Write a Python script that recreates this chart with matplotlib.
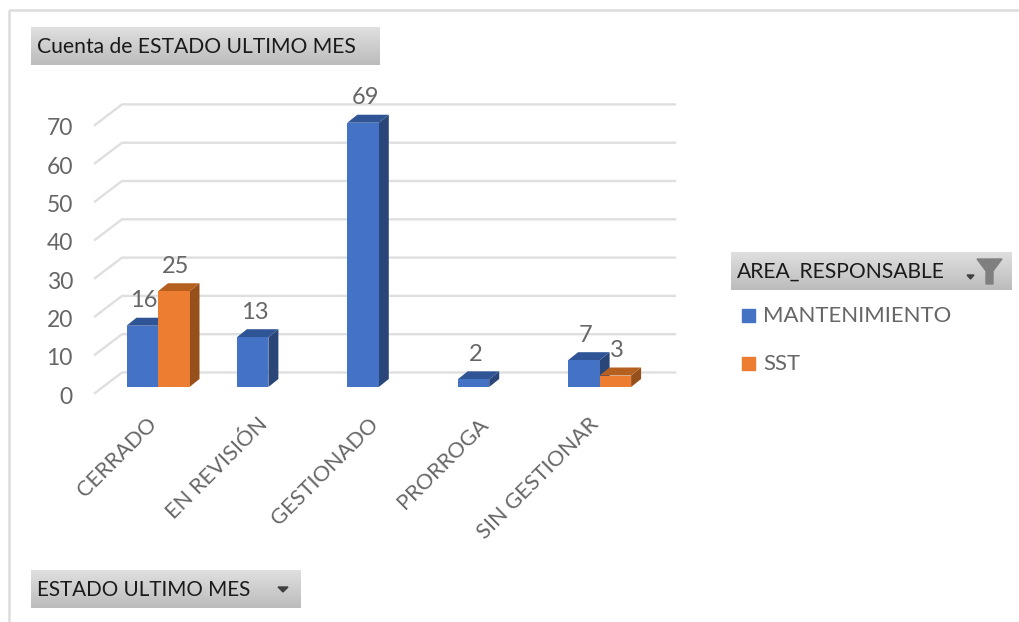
import matplotlib
matplotlib.use('Agg')
import matplotlib.pyplot as plt
import numpy as np
from matplotlib.patches import Polygon, Rectangle
from matplotlib.transforms import ScaledTranslation

WIDTH, HEIGHT = 1019, 622
DPI = 100

categories = ['CERRADO', 'EN REVISIÓN', 'GESTIONADO', 'PRORROGA', 'SIN GESTIONAR']
series_names = ['MANTENIMIENTO', 'SST']
mantenimiento = [16, 13, 69, 2, 7]
sst = [25, None, None, None, 3]
y_ticks = [0, 10, 20, 30, 40, 50, 60, 70]

BLUE = ('#4472C4', '#2F5597', '#2A4678')
ORANGE = ('#ED7D31', '#B5601F', '#96501C')
TEXT_GREY = '#666666'
GRID = '#DFDFDF'

plt.rcParams['font.family'] = ['Lato', 'DejaVu Sans']

# pixels per data unit on the front plane
PX_X = 110.4
PX_Y = 3.83
BAR_W = 31.5 / PX_X
DEPTH_X = 10 / PX_X
DEPTH_Y = 8 / PX_Y
px = 72 / DPI


def px_rect(left, top, right, bottom):
    return [left / WIDTH, 1 - bottom / HEIGHT, (right - left) / WIDTH, (bottom - top) / HEIGHT]


fig = plt.figure(figsize=(WIDTH / DPI, HEIGHT / DPI), dpi=DPI, facecolor='white')

# overlay in pixel coordinates for the frame and the pivot buttons
ui = fig.add_axes([0, 0, 1, 1], zorder=0)
ui.axis('off')

ui.plot([9, 9], [10, HEIGHT], color='#DCDCDC', lw=1.8, solid_capstyle='butt')
ui.plot([9, WIDTH], [10, 10], color='#DCDCDC', lw=1.8, solid_capstyle='butt')


def button(left, top, right, bottom, label, size):
    shades = np.linspace(0.875, 0.735, 64).reshape(-1, 1)
    ui.imshow(shades, extent=(left, right, bottom, top), aspect='auto', cmap='gray',
              vmin=0, vmax=1, zorder=1)
    ui.text(left + 6, (top + bottom) / 2 + 1, label, fontsize=size, color='#1A1A1A',
            va='center', ha='left', zorder=2)


button(31, 27, 380, 65, 'Cuenta de ESTADO ULTIMO MES', 15.2)
button(731, 252, 1012, 290, 'AREA_RESPONSABLE', 15.2)
button(31, 570, 301, 608, 'ESTADO ULTIMO MES', 14.9)
ui.set_xlim(0, WIDTH)
ui.set_ylim(HEIGHT, 0)

# dropdown arrows and filter icon
ui.add_patch(Polygon([(278, 587), (288, 587), (283, 592)], color='#404040', zorder=3))
ui.add_patch(Polygon([(967, 275), (974, 275), (970.5, 279)], color='#404040', zorder=3))
ui.add_patch(Polygon([(977, 259), (1002, 259), (993, 271), (993, 284), (986, 284), (986, 271)],
                     color='#7F7F7F', zorder=3))

# legend
for (name, colours, y) in zip(series_names, (BLUE, ORANGE), (315, 363)):
    ui.add_patch(Rectangle((742, y - 6.5), 13, 13, color=colours[0], zorder=3))
    ui.text(763, y + 1, name, fontsize=15.9, color=TEXT_GREY, va='center', ha='left', zorder=3)

# chart
ax = fig.add_axes(px_rect(158 - 0.5 * PX_X, 387 - 70 * PX_Y, 158 + 4.5 * PX_X, 387), zorder=2)
ax.patch.set_alpha(0)
ax.set_xlim(-0.5, 4.5)
ax.set_ylim(0, 70)
for spine in ax.spines.values():
    spine.set_visible(False)

# walls: back gridline plus the slanted piece on the left
wall_front_x = -0.5 + (95 - 102.8) / PX_X
wall_back_x = -0.5 + (122 - 102.8) / PX_X
wall_right_x = -0.5 + (675 - 102.8) / PX_X
front_shift = -6 / PX_Y
back_shift = 14.5 / PX_Y
for v in y_ticks:
    ax.plot([wall_front_x, wall_back_x, wall_right_x],
            [v + front_shift, v + back_shift, v + back_shift],
            color=GRID, lw=1.7, clip_on=False, zorder=1, solid_joinstyle='miter')


def draw_bar(left, value, colours, zorder):
    right = left + BAR_W
    ax.add_patch(Polygon([(right, 0), (right + DEPTH_X, DEPTH_Y),
                          (right + DEPTH_X, value + DEPTH_Y), (right, value)],
                         facecolor=colours[2], edgecolor='none', zorder=zorder, clip_on=False))
    ax.add_patch(Polygon([(left, value), (left + DEPTH_X, value + DEPTH_Y),
                          (right + DEPTH_X, value + DEPTH_Y), (right, value)],
                         facecolor=colours[1], edgecolor='none', zorder=zorder, clip_on=False))
    ax.add_patch(Rectangle((left, 0), BAR_W, value, facecolor=colours[0],
                           edgecolor='none', zorder=zorder + 0.1, clip_on=False))


for i, v in enumerate(mantenimiento):
    if v is not None:
        draw_bar(i - BAR_W, v, BLUE, 3)
for i, v in enumerate(sst):
    if v is not None:
        draw_bar(i, v, ORANGE, 4)

# data labels sit about 25px over the front face
for i, (a, b) in enumerate(zip(mantenimiento, sst)):
    for left, v in ((i - BAR_W, a), (i, b)):
        if v is None:
            continue
        ax.annotate(str(v), (left + BAR_W / 2, v), xytext=(2 * px, 25 * px),
                    textcoords='offset points', ha='center', va='center',
                    fontsize=17, color=TEXT_GREY, zorder=6, annotation_clip=False)

ax.set_yticks(y_ticks)
ax.set_yticklabels([str(v) for v in y_ticks])
ax.tick_params(axis='y', length=0, pad=21.5, labelsize=16.5, labelcolor=TEXT_GREY)
ax.set_xticks(range(len(categories)))
ax.set_xticklabels(categories, rotation=45, ha='right', va='top', rotation_mode='anchor')
ax.tick_params(axis='x', length=0, pad=19.5, labelsize=15.7, labelcolor=TEXT_GREY)

# value labels line up with the front end of the gridlines, a little lower
shift_down = ScaledTranslation(0, -8 * px / 72, fig.dpi_scale_trans)
for label in ax.get_yticklabels():
    label.set_transform(label.get_transform() + shift_down)
# category labels end right under the bars, not past them
shift_left = ScaledTranslation(-11 * px / 72, 0, fig.dpi_scale_trans)
for label in ax.get_xticklabels():
    label.set_transform(label.get_transform() + shift_left)

fig.savefig('out.png', dpi=DPI)
